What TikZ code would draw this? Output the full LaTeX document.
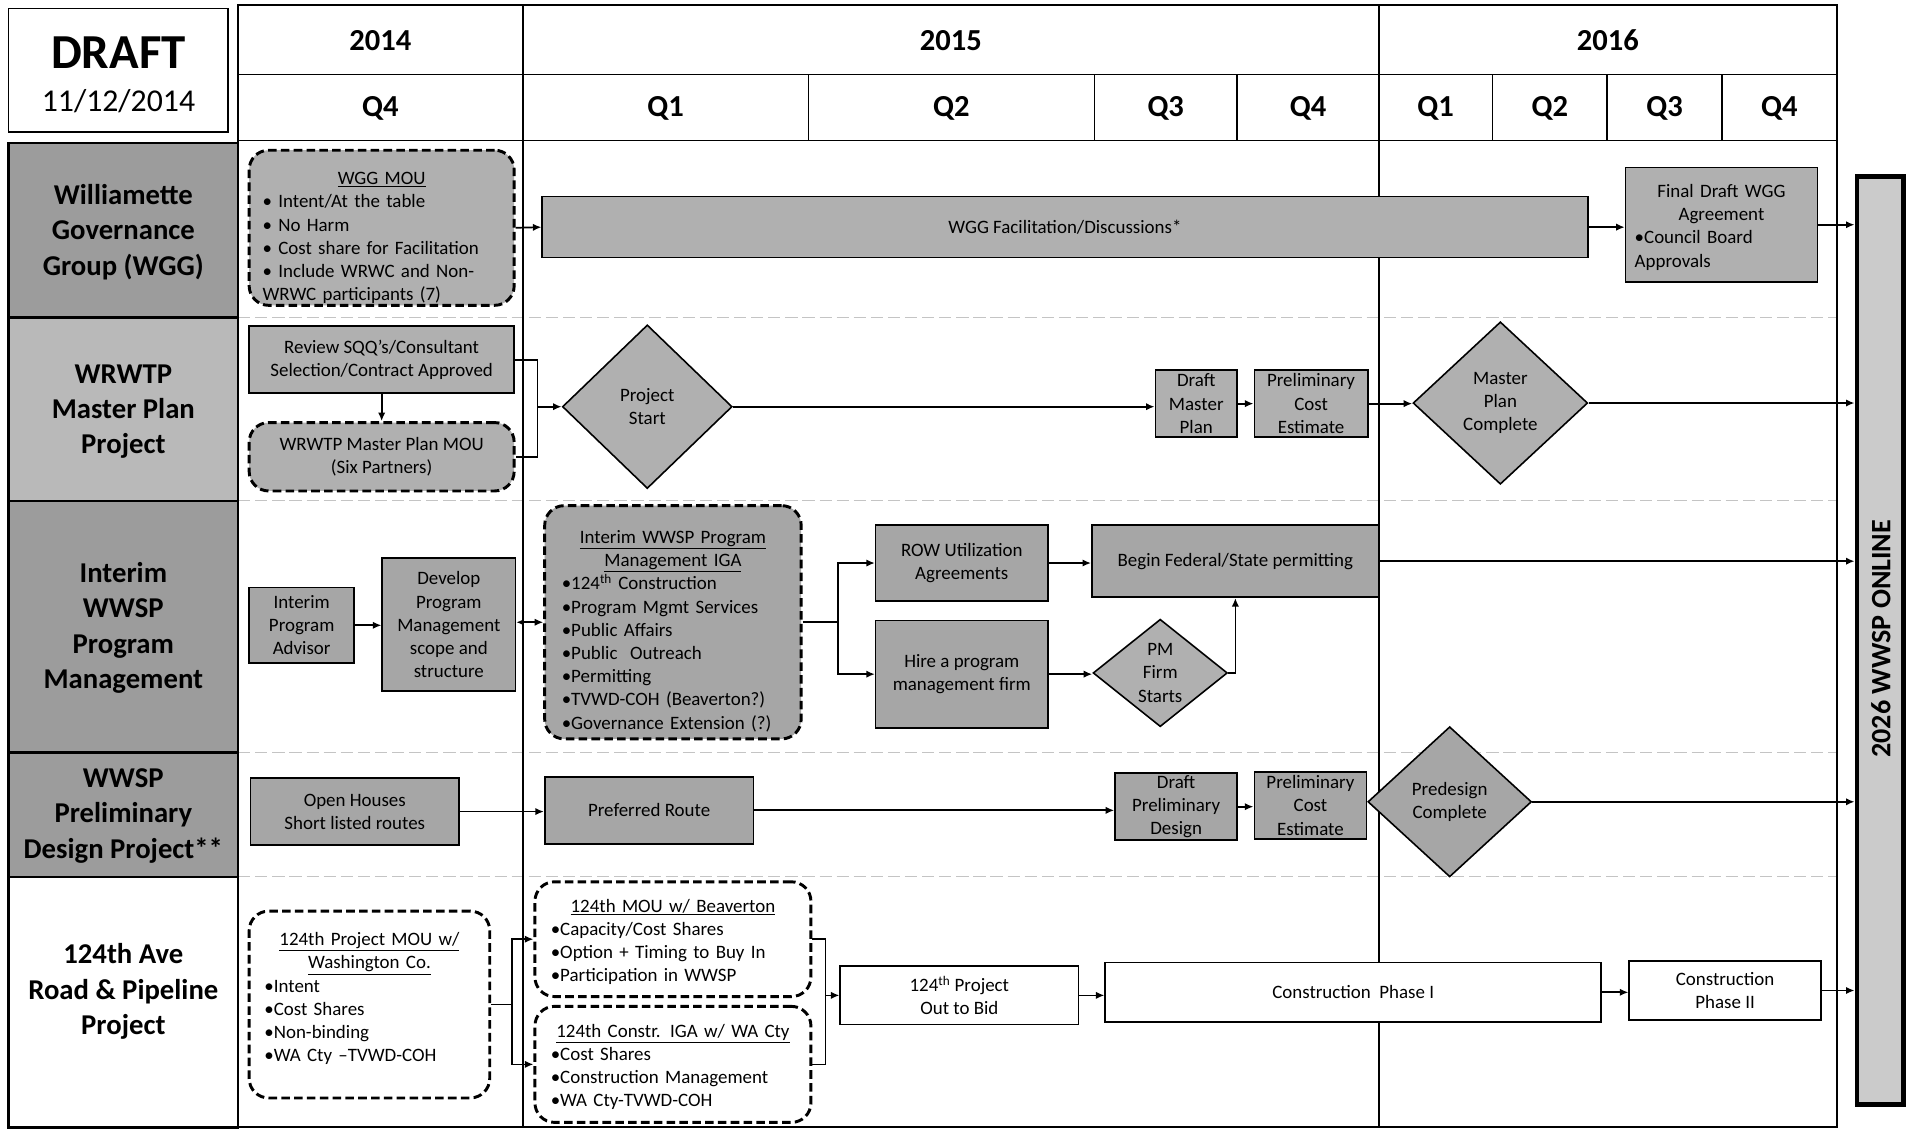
\documentclass[tikz,border=0pt]{standalone}
\usepackage{fontspec}
\setmainfont{Carlito}
\usetikzlibrary{shapes.geometric,arrows.meta}
\setlength{\parindent}{0pt}
\definecolor{boxg}{HTML}{B0B0B0}
\definecolor{boxd}{HTML}{A6A6A6}
\definecolor{labd}{HTML}{9C9C9C}
\definecolor{labl}{HTML}{B9B9B9}
\definecolor{barg}{HTML}{CBCBCB}
\definecolor{sepg}{HTML}{C4C4C4}
\newcommand{\bodyfont}{\fontsize{15.5}{19}\selectfont}
\newcommand{\labfont}{\fontsize{23.5}{29}\selectfont\bfseries}
\newcommand{\hdrfont}{\fontsize{25}{30}\selectfont\bfseries}
\begin{document}
\begin{tikzpicture}[x=1pt,y=-1pt,
  box/.style={draw=black, line width=1.3pt, fill=boxg, inner sep=0pt, align=center, font=\bodyfont},
  dbox/.style={box, dash pattern=on 7pt off 3.5pt, line width=2.4pt, rounded corners=16pt},
  wbox/.style={box, fill=white},
  dia/.style={box, diamond, fill=boxg},
  sz/.style 2 args={minimum width=#1pt, minimum height=#2pt},
  conn/.style={line width=1.4pt, -{Latex[length=7pt,width=6pt]}},
  conn2/.style={line width=1.4pt, {Latex[length=6pt,width=5pt]}-{Latex[length=7pt,width=6pt]}},
  plain/.style={line width=1.4pt},
  grid/.style={line width=1.3pt, draw=black},
  labline/.style={line width=2pt, draw=black},
  sep/.style={line width=0.9pt, draw=sepg, dash pattern=on 10pt off 4pt},
  labtxt/.style={font=\labfont, align=center},
  hdrtxt/.style={font=\hdrfont}
]
\fill[white] (0,0) rectangle (1568,927);
\useasboundingbox (0,0) rectangle (1568,927);

% DRAFT box
\node[draw, line width=1.5pt, minimum width=180pt, minimum height=101pt] (draftbox) at (97,57.5) {};
\node[font=\fontsize{40}{44}\selectfont\bfseries] (drafttxt) at (97,43) {DRAFT};
\node[font=\fontsize{26}{30}\selectfont] (datetxt) at (97,83) {11/12/2014};

% header grid
\draw[grid] (195,4) rectangle (1504,115);
\draw[grid] (195,61) -- (1504,61);
\foreach \x in {428,1129} \draw[grid] (\x,4) -- (\x,115);
\foreach \x in {662,896,1013,1222,1316,1410} \draw[grid] (\x,61) -- (\x,115);
\node[hdrtxt] (y14) at (311.5,33) {2014};
\node[hdrtxt] (y15) at (778.5,33) {2015};
\node[hdrtxt] (y16) at (1316.5,33) {2016};
\node[hdrtxt] (q144) at (311.5,89) {Q4};
\node[hdrtxt] (q151) at (545,89) {Q1};
\node[hdrtxt] (q152) at (779,89) {Q2};
\node[hdrtxt] (q153) at (954.5,89) {Q3};
\node[hdrtxt] (q154) at (1071,89) {Q4};
\node[hdrtxt] (q161) at (1175.5,89) {Q1};
\node[hdrtxt] (q162) at (1269,89) {Q2};
\node[hdrtxt] (q163) at (1363,89) {Q3};
\node[hdrtxt] (q164) at (1457,89) {Q4};

% body grid
\draw[sep] (195,260) -- (1504,260);
\draw[sep] (195,410) -- (1504,410);
\draw[sep] (195,616) -- (1504,616);
\draw[sep] (195,718) -- (1504,718);
\draw[grid] (195,115) -- (195,923) -- (1504,923) -- (1504,115);
\draw[grid] (428,115) -- (428,923);
\draw[grid] (1129,115) -- (1129,923);

% label column
\draw[labline, fill=labd] (7,117) rectangle (195,260);
\draw[labline, fill=labl] (7,260) rectangle (195,410);
\draw[labline, fill=labd] (7,410) rectangle (195,616);
\draw[labline, fill=labd] (7,616) rectangle (195,718);
\draw[labline, fill=white] (7,718) rectangle (195,923);
\node[labtxt] (lab1) at (101,190) {Williamette\\Governance\\Group (WGG)};
\node[labtxt] (lab2) at (101,337) {WRWTP\\Master Plan\\Project};
\node[labtxt] (lab3) at (101,514) {Interim\\WWSP\\Program\\Management};
\node[labtxt] (lab4) at (101,668) {WWSP\\Preliminary\\Design Project**};
\node[labtxt] (lab5) at (101,812) {124th Ave\\Road \& Pipeline\\Project};

% 2026 bar
\node[draw, line width=4pt, fill=barg, minimum width=38pt, minimum height=760pt] (online) at (1539.5,524.5) {};
\node[rotate=90, font=\fontsize{23}{28}\selectfont\bfseries] (onlinetxt) at (1540,523) {2026 WWSP ONLINE};

% ---- WGG row
\node[dbox, sz={217}{127}, text width=195pt, align=left] (wggmou) at (312.5,186.5)
 {{\centering\rule{0pt}{27pt}\underline{WGG MOU}\par}• Intent/At the table\\• No Harm\\• Cost share for Facilitation\\• Include WRWC and Non-\\WRWC participants (7)};
\node[box, sz={856}{50}] (wggbar) at (872,186) {WGG Facilitation/Discussions*};
\node[box, sz={157}{94}, text width=142pt, align=left] (finaldraft) at (1409.5,184)
 {{\centering\rule{0pt}{15pt}Final Draft WGG\\Agreement\par}•Council Board\\Approvals};
\draw[conn] (wggmou.east) -- (wggbar.west);
\draw[conn] (wggbar.east) -- (wggbar.east -| finaldraft.west);
\draw[conn] (finaldraft.east) -- (finaldraft.east -| online.west);

% ---- WRWTP row
\node[box, sz={217}{55}] (review) at (312.5,294.5) {Review SQQ’s/Consultant\\Selection/Contract Approved};
\node[dbox, sz={217}{56}] (wrwtpmou) at (312.5,374) {WRWTP Master Plan MOU\\(Six Partners)};
\node[dia, sz={139}{134}, aspect=1.04] (projstart) at (530,333) {Project\\Start};
\node[box, sz={67}{55}] (draftmp) at (979.5,330.5) {Draft\\Master\\Plan};
\node[box, sz={93}{55}] (pcost1) at (1073.5,330.5) {Preliminary\\Cost\\Estimate};
\node[dia, sz={143}{133}, aspect=1.07] (mpdone) at (1228.5,330) {Master\\Plan\\Complete};
\coordinate (brk1) at (440,333);
\draw[conn] (review.south) -- (wrwtpmou.north);
\draw[plain] (review.east) -- (review.east -| brk1) -- (wrwtpmou.east -| brk1) -- (wrwtpmou.east);
\draw[conn] (brk1) -- (projstart.west);
\draw[conn] (projstart.east) -- (projstart.east -| draftmp.west);
\draw[conn] (draftmp.east) -- (pcost1.west);
\draw[conn] (pcost1.east) -- (pcost1.east -| mpdone.west);
\draw[conn] (mpdone.east) -- (mpdone.east -| online.west);

% ---- Interim row
\node[box, fill=boxd, sz={86}{62}] (advisor) at (247,512) {Interim\\Program\\Advisor};
\node[box, fill=boxd, sz={109}{109}] (develop) at (367.5,511.5) {Develop\\Program\\Management\\scope and\\structure};
\node[dbox, fill=boxd, sz={210}{191}, text width=182pt, align=left] (iga) at (551,509.5)
 {{\centering\rule{0pt}{25pt}\underline{Interim WWSP Program}\\\underline{Management IGA}\par}•124\textsuperscript{th} Construction\\•Program Mgmt Services\\•Public Affairs\\•Public~ Outreach\\•Permitting\\•TVWD-COH (Beaverton?)\\•Governance Extension (?)};
\node[box, fill=boxd, sz={141}{62}] (rowagr) at (787.5,461) {ROW Utilization\\Agreements};
\node[box, fill=boxd, sz={141}{88}] (hire) at (787.5,552) {Hire a program\\management firm};
\node[box, fill=boxd, sz={235}{59}] (permit) at (1011.5,459.5) {Begin Federal/State permitting};
\node[dia, sz={110}{88}, aspect=1.25] (pmfirm) at (950,551) {PM\\Firm\\Starts};
\coordinate (split1) at (686,509.5);
\draw[conn] (advisor.east) -- (develop.west |- advisor.east);
\draw[conn2] (develop.east |- iga.west) -- (iga.west);
\draw[plain] (iga.east) -- (split1);
\draw[conn] (split1) |- (rowagr.west);
\draw[conn] (split1) |- (hire.west);
\draw[conn] (rowagr.east) -- (rowagr.east -| permit.west);
\draw[conn] (hire.east) -- (hire.east -| pmfirm.west);
\draw[conn] (pmfirm.east) -| (permit.south);
\draw[conn] (permit.east) -- (permit.east -| online.west);

% ---- WWSP row
\node[box, fill=boxd, sz={171}{55}] (openh) at (290.5,664.5) {Open Houses\\Short listed routes};
\node[box, fill=boxd, sz={171}{55}] (prefr) at (531.5,663.5) {Preferred Route};
\node[box, fill=boxd, sz={100}{55}] (draftpd) at (963,660.5) {Draft\\Preliminary\\Design};
\node[box, fill=boxd, sz={92}{55}] (pcost2) at (1073,659.5) {Preliminary\\Cost\\Estimate};
\node[dia, fill=boxd, sz={134}{123}, aspect=1.09] (predes) at (1187,656.5) {Predesign\\Complete};
\draw[conn] (openh.east) -- (openh.east -| prefr.west);
\draw[conn] (prefr.east) -- (prefr.east -| draftpd.west);
\draw[conn] (draftpd.east) -- (draftpd.east -| pcost2.west);
\draw[conn] (predes.east) -- (predes.east -| online.west);

% ---- 124th row
\node[dbox, fill=white, sz={197}{153}, text width=172pt, align=left] (mou124) at (302.5,822.5)
 {{\centering\underline{124th Project MOU w/}\\\underline{Washington Co.}\par}•Intent\\•Cost Shares\\•Non-binding\\•WA Cty –TVWD-COH\rule[-12pt]{0pt}{12pt}};
\node[dbox, fill=white, sz={226}{94}, text width=200pt, align=left] (beav) at (551,769)
 {{\centering\rule{0pt}{15pt}\underline{124th MOU w/ Beaverton}\par}•Capacity/Cost Shares\\•Option + Timing to Buy In\\•Participation in WWSP};
\node[dbox, fill=white, sz={226}{95}, text width=200pt, align=left] (constr) at (551,871.5)
 {{\centering\rule{0pt}{15pt}\underline{124th Constr. IGA w/ WA Cty}\par}•Cost Shares\\•Construction Management\\•WA Cty-TVWD-COH};
\node[wbox, sz={195}{48}] (bid) at (785.5,815) {124\textsuperscript{th} Project\\Out to Bid};
\node[wbox, sz={406}{49}] (phase1) at (1108,812.5) {Construction~ Phase I};
\node[wbox, sz={157}{48}] (phase2) at (1412.5,811) {Construction\\Phase II};
\coordinate (brk2) at (419,822.5);
\coordinate (brk3) at (676,815);
\draw[plain] (mou124.east) -- (brk2);
\draw[conn] (brk2) |- (beav.west);
\draw[conn] (brk2) |- (constr.west);
\draw[plain] (beav.east) -- (beav.east -| brk3) -- (constr.east -| brk3) -- (constr.east);
\draw[conn] (brk3) -- (bid.west);
\draw[conn] (bid.east) -- (bid.east -| phase1.west);
\draw[conn] (phase1.east) -- (phase1.east -| phase2.west);
\draw[conn] (phase2.east) -- (phase2.east -| online.west);
\end{tikzpicture}
\end{document}
